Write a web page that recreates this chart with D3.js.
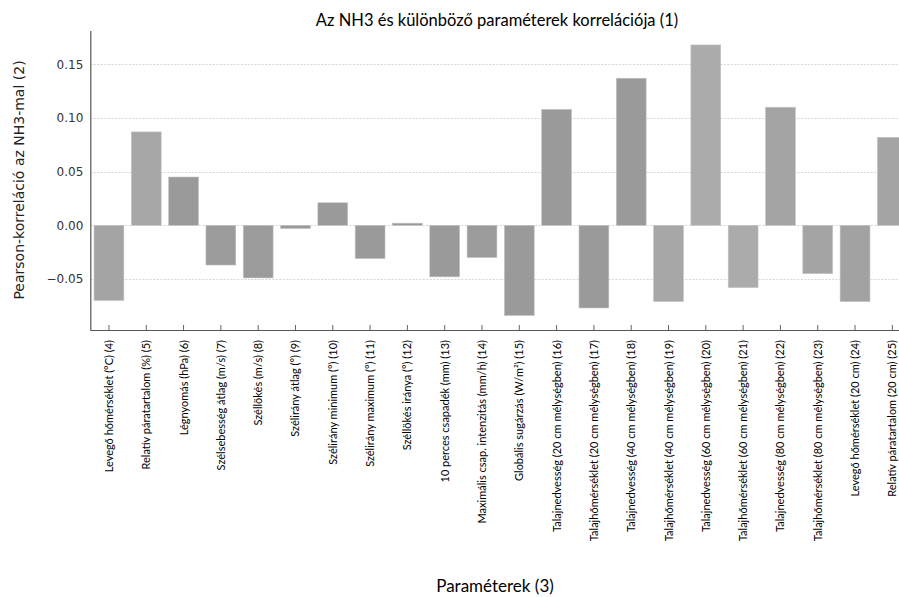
<!DOCTYPE html>
<html>
<head>
<meta charset="utf-8">
<script src="https://cdn.jsdelivr.net/npm/d3@7"></script>
<style>
  html, body { margin: 0; padding: 0; background: #fff; }
  svg { display: block; }
</style>
</head>
<body>
<svg id="chart" width="899" height="597"></svg>
<script>
const categories = [
  "Levegő hőmérséklet (°C) (4)",
  "Relatív páratartalom (%) (5)",
  "Légnyomás (hPa) (6)",
  "Szélsebesség átlag (m/s) (7)",
  "Széllökés (m/s) (8)",
  "Szélirány átlag (°) (9)",
  "Szélirány minimum (°) (10)",
  "Szélirány maximum (°) (11)",
  "Széllökés iránya (°) (12)",
  "10 perces csapadék (mm) (13)",
  "Maximális csap. intenzitás (mm/h) (14)",
  "Globális sugárzás (W/m²) (15)",
  "Talajnedvesség (20 cm mélységben) (16)",
  "Talajhőmérséklet (20 cm mélységben) (17)",
  "Talajnedvesség (40 cm mélységben) (18)",
  "Talajhőmérséklet (40 cm mélységben) (19)",
  "Talajnedvesség (60 cm mélységben) (20)",
  "Talajhőmérséklet (60 cm mélységben) (21)",
  "Talajnedvesség (80 cm mélységben) (22)",
  "Talajhőmérséklet (80 cm mélységben) (23)",
  "Levegő hőmérséklet (20 cm) (24)",
  "Relatív páratartalom (20 cm) (25)"
];
const correlations = [
  -0.070, 0.087, 0.045, -0.037, -0.049, -0.003, 0.021, -0.031, 0.002, -0.048, -0.030,
  -0.084, 0.108, -0.077, 0.137, -0.071, 0.168, -0.058, 0.110, -0.045, -0.071, 0.082
];
const barColors = [
  "#a4a4a4", "#a7a7a7", "#9a9a9a", "#9b9b9b", "#9b9b9b", "#9a9a9a", "#9a9a9a", "#9a9a9a",
  "#9a9a9a", "#9a9a9a", "#9b9b9b", "#9a9a9a", "#9a9a9a", "#9a9a9a", "#9a9a9a", "#a7a7a7",
  "#ababab", "#ababab", "#a4a4a4", "#a4a4a4", "#a2a2a2", "#a4a4a4"
];
const yTicks = [-0.05, 0.00, 0.05, 0.10, 0.15];
const titleText = "Az NH3 és különböző paraméterek korrelációja (1)";
const xLabelText = "Paraméterek (3)";
const yLabelText = "Pearson-korreláció az NH3-mal (2)";

const svg = d3.select("#chart");
const mLeft = 90.3, mRight = 911, mTop = 31, mBottom = 330;

const x = d3.scaleBand().domain(categories).range([mLeft, mRight])
  .paddingInner(0.2).paddingOuter(0.1);
const y = d3.scaleLinear().domain([-0.0975, 0.181]).range([mBottom, mTop]);

// grid lines
svg.append("g").selectAll("line").data(yTicks).join("line")
  .attr("x1", mLeft).attr("x2", 899)
  .attr("y1", d => Math.round(y(d)) + 0.5).attr("y2", d => Math.round(y(d)) + 0.5)
  .attr("stroke", "#d6d6d6").attr("stroke-width", 1).attr("stroke-dasharray", "2,1.5");

// bars
svg.append("g").selectAll("rect").data(correlations).join("rect")
  .attr("x", (d, i) => x(categories[i]))
  .attr("width", x.bandwidth())
  .attr("y", d => y(Math.max(0, d)))
  .attr("height", d => Math.abs(y(d) - y(0)))
  .attr("fill", (d, i) => barColors[i])
  .attr("stroke", "#c4c4c4").attr("stroke-width", 0.6);

// x axis
const xAxis = d3.axisBottom(x).tickSizeInner(-5).tickSizeOuter(0).tickFormat("");
const gx = svg.append("g").attr("transform", `translate(0,${mBottom})`).call(xAxis);
gx.select(".domain").attr("stroke", "#555").attr("stroke-width", 1.2).attr("d", `M${mLeft},0.5H899`);
gx.selectAll(".tick line").attr("stroke", "#666");

// x tick labels rotated
svg.append("g").selectAll("text").data(categories).join("text")
  .attr("transform", d => `translate(${x(d) + x.bandwidth() / 2 + 4},${mBottom + 10}) rotate(-90)`)
  .attr("text-anchor", "end")
  .attr("font-family", "Lato, 'Open Sans', sans-serif")
  .attr("font-size", "11px")
  .attr("fill", "#000")
  .text(d => d);

// y axis
const yAxis = d3.axisLeft(y).tickValues(yTicks).tickSize(0).tickPadding(7)
  .tickFormat(d => d3.format(".2f")(d).replace("-", "−"));
const gy = svg.append("g").attr("transform", `translate(${mLeft},0)`).call(yAxis);
gy.select(".domain").attr("stroke", "#555").attr("stroke-width", 1.2).attr("d", `M0.5,${mTop}V${mBottom}`);
gy.selectAll(".tick text")
  .attr("font-family", "'DejaVu Sans', sans-serif")
  .attr("font-size", "12px")
  .attr("fill", "#333");

// title
svg.append("text")
  .attr("x", 497).attr("y", 26)
  .attr("text-anchor", "middle")
  .attr("font-family", "Lato, 'Open Sans', sans-serif")
  .attr("font-size", "16.5px")
  .attr("fill", "#000")
  .text(titleText);

// x label
svg.append("text")
  .attr("x", 495).attr("y", 592)
  .attr("text-anchor", "middle")
  .attr("font-family", "Lato, 'Open Sans', sans-serif")
  .attr("font-size", "17px")
  .attr("fill", "#000")
  .text(xLabelText);

// y label
svg.append("text")
  .attr("transform", "translate(24,180) rotate(-90)")
  .attr("text-anchor", "middle")
  .attr("font-family", "'DejaVu Sans', sans-serif")
  .attr("font-size", "14px")
  .attr("fill", "#222")
  .text(yLabelText);
</script>
</body>
</html>
